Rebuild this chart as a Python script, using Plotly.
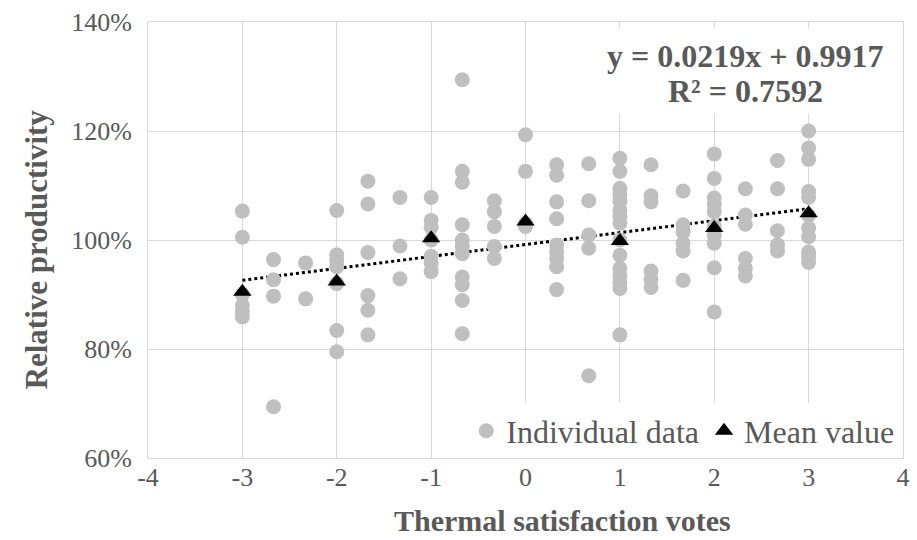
import plotly.graph_objects as go

# ---- data ----
vote_levels = [-3, -2.67, -2.33, -2, -1.67, -1.33, -1, -0.67, -0.33, 0,
               0.33, 0.67, 1, 1.33, 1.67, 2, 2.33, 2.67, 3]
values_by_level = [
    [105.3, 100.5, 90.0, 88.0, 86.9, 85.9],
    [96.4, 92.7, 89.7, 69.4],
    [95.8, 89.2],
    [105.4, 97.3, 96.3, 95.1, 92.0, 83.4, 79.5],
    [110.8, 106.6, 97.7, 89.8, 87.1, 82.6],
    [107.8, 98.9, 92.9],
    [107.8, 103.6, 102.3, 100.0, 97.0, 95.8, 94.2],
    [129.4, 112.6, 110.6, 102.8, 100.0, 98.8, 97.5, 93.2, 91.8, 88.9, 82.8],
    [107.2, 105.2, 102.5, 98.8, 96.6],
    [119.3, 112.6, 103.0, 102.5],
    [113.8, 111.9, 107.0, 103.9, 99.1, 97.8, 96.6, 95.1, 90.9],
    [114.0, 107.2, 100.9, 98.5, 75.1],
    [115.0, 112.6, 109.5, 108.3, 107.1, 105.5, 104.3, 103.1, 100.0, 97.2,
     94.8, 93.5, 92.3, 91.1, 82.6],
    [113.8, 108.1, 107.0, 94.3, 92.8, 91.3],
    [109.0, 102.8, 101.5, 99.4, 98.0, 92.6],
    [115.8, 111.3, 107.7, 106.5, 105.2, 102.5, 100.9, 99.4, 94.9, 86.8],
    [109.4, 104.6, 102.9, 96.6, 94.8, 93.4],
    [114.6, 109.4, 101.7, 99.1, 98.0],
    [120.0, 116.9, 114.8, 108.9, 107.8, 104.5, 102.2, 100.6, 97.8, 96.9, 95.9],
]
mean_x = [-3, -2, -1, 0, 1, 2, 3]
mean_y = [90.5, 92.4, 100.3, 103.4, 99.8, 102.2, 104.9]
trend_slope = 0.0219
trend_intercept = 0.9917
trend_x = [-3, 3]
equation_lines = ["y = 0.0219x + 0.9917", "R² = 0.7592"]
x_tick_vals = [-4, -3, -2, -1, 0, 1, 2, 3, 4]
x_tick_text = ["-4", "-3", "-2", "-1", "0", "1", "2", "3", "4"]
y_tick_vals = [0.6, 0.8, 1.0, 1.2, 1.4]
y_tick_text = ["60%", "80%", "100%", "120%", "140%"]
x_title = "Thermal satisfaction votes"
y_title = "Relative productivity"

# ---- build ----
ind_x, ind_y = [], []
for lv, vals in zip(vote_levels, values_by_level):
    for v in vals:
        ind_x.append(lv)
        ind_y.append(v / 100.0)
trend_y = [trend_slope * x + trend_intercept for x in trend_x]

GREY_TXT = "#595959"
GRID = "#d9d9d9"
FONT = "Liberation Serif"

fig = go.Figure()
fig.add_trace(go.Scatter(
    x=trend_x, y=trend_y, mode="lines", showlegend=False,
    line=dict(color="black", width=3, dash="3px,3px"), hoverinfo="skip"))
fig.add_trace(go.Scatter(
    x=ind_x, y=ind_y, mode="markers", name="Individual data",
    marker=dict(color="#bfbfbf", size=15, symbol="circle", line=dict(width=0))))
fig.add_trace(go.Scatter(
    x=mean_x, y=[v / 100.0 for v in mean_y], mode="markers", name="Mean value",
    marker=dict(color="black", size=16, symbol="triangle-up", line=dict(width=0))))

# white box behind the regression label (hides gridlines like the original)
fig.add_shape(type="rect", xref="paper", yref="paper", x0=0.593, x1=0.975,
              y0=0.79, y1=0.985, fillcolor="white", line=dict(width=0),
              layer="above")
for i, line in enumerate(equation_lines):
    fig.add_annotation(
        x=0.791, y=0.921 - i * 0.08, xref="paper", yref="paper",
        text="<b>" + line + "</b>", showarrow=False, xanchor="center",
        yanchor="middle", font=dict(family=FONT, size=32, color=GREY_TXT))

# axis titles
fig.add_annotation(
    x=0.5486, y=-0.143, xref="paper", yref="paper", text="<b>" + x_title + "</b>",
    showarrow=False, xanchor="center", yanchor="middle",
    font=dict(family=FONT, size=30, color=GREY_TXT))
fig.add_annotation(
    x=-0.148, y=0.479, xref="paper", yref="paper", text="<b>" + y_title + "</b>",
    showarrow=False, textangle=-90, xanchor="center", yanchor="middle",
    font=dict(family=FONT, size=31, color=GREY_TXT))

fig.update_layout(
    width=917, height=540,
    margin=dict(l=148, r=7, t=22, b=82),
    paper_bgcolor="white", plot_bgcolor="white",
    font=dict(family=FONT, color=GREY_TXT),
    legend=dict(orientation="h", x=0.995, xanchor="right", y=0.062, yanchor="middle",
                bgcolor="white", font=dict(family=FONT, size=32, color=GREY_TXT),
                itemwidth=30, tracegroupgap=0),
)
fig.update_xaxes(
    range=[-4, 4], tickmode="array", tickvals=x_tick_vals, ticktext=x_tick_text,
    showgrid=True, gridcolor=GRID, gridwidth=1,
    showline=True, linecolor=GRID, mirror=True, zeroline=False,
    ticks="", ticklabelstandoff=-4,
    tickfont=dict(family=FONT, size=26, color=GREY_TXT))
fig.update_yaxes(
    range=[0.6, 1.4], tickmode="array", tickvals=y_tick_vals, ticktext=y_tick_text,
    showgrid=True, gridcolor=GRID, gridwidth=1, showline=True, linecolor=GRID,
    mirror=True, zeroline=False, ticks="outside", ticklen=10,
    tickcolor="rgba(0,0,0,0)",
    tickfont=dict(family=FONT, size=26, color=GREY_TXT))

fig.write_html("out.html")
